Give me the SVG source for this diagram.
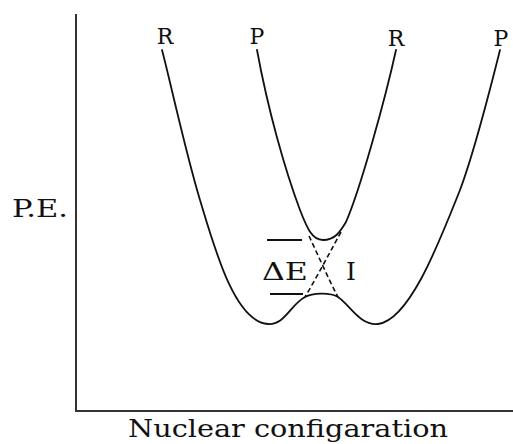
<svg xmlns="http://www.w3.org/2000/svg" width="513" height="444" viewBox="0 0 513 444">
<style>
.axis{stroke:#333;stroke-width:2;fill:none}
.curve{stroke:#111;stroke-width:1.8;fill:none;stroke-linecap:round}
.dash{stroke:#111;stroke-width:1.6;fill:none;stroke-dasharray:5,3}
.lvl{stroke:#111;stroke-width:1.8}
.lab{font-family:"DejaVu Serif","Liberation Serif",serif;font-size:25px;fill:#111}
.cur{font-family:"DejaVu Serif","Liberation Serif",serif;font-size:22px;fill:#111;text-anchor:middle}
</style>
<rect width="513" height="444" fill="#fff"/>
<g id="axes">
<line class="axis" x1="76" y1="14" x2="76" y2="411"/>
<line class="axis" x1="75" y1="411" x2="513" y2="411"/>
</g>
<g id="connectors">
<path class="curve" d="M162,50 C170,80 185,150 200,200 C215,250 235,322 268,324 C285,325 290,305 305,297 C312,293 330,292 338,297 C350,305 360,326 378,324 C410,320 440,240 460,190 C475,150 490,90 500,50"/>
<path class="curve" d="M257,50 C268,110 285,170 300,210 C307,228 312,240 323,240 C335,240 340,232 346,222 C360,190 385,100 396,50"/>
<path class="dash" d="M309,236 C318,255 328,278 338,297"/>
<path class="dash" d="M341,232 C330,252 318,275 305,297"/>
<line class="lvl" x1="267" y1="240" x2="302" y2="240"/>
<line class="lvl" x1="270" y1="294" x2="303" y2="294"/>
</g>
<g id="labels">
<text class="cur" x="165" y="44">R</text>
<text class="cur" x="257" y="44">P</text>
<text class="cur" x="396" y="46">R</text>
<text class="cur" x="501" y="46">P</text>
<text class="lab" x="12" y="217" textLength="56" lengthAdjust="spacingAndGlyphs">P.E.</text>
<text class="lab" x="262" y="280" textLength="46" lengthAdjust="spacingAndGlyphs">ΔE</text>
<text class="lab" x="346" y="280">I</text>
<text class="lab" x="128" y="437" font-size="23" textLength="320" lengthAdjust="spacingAndGlyphs">Nuclear configaration</text>
</g>
</svg>
